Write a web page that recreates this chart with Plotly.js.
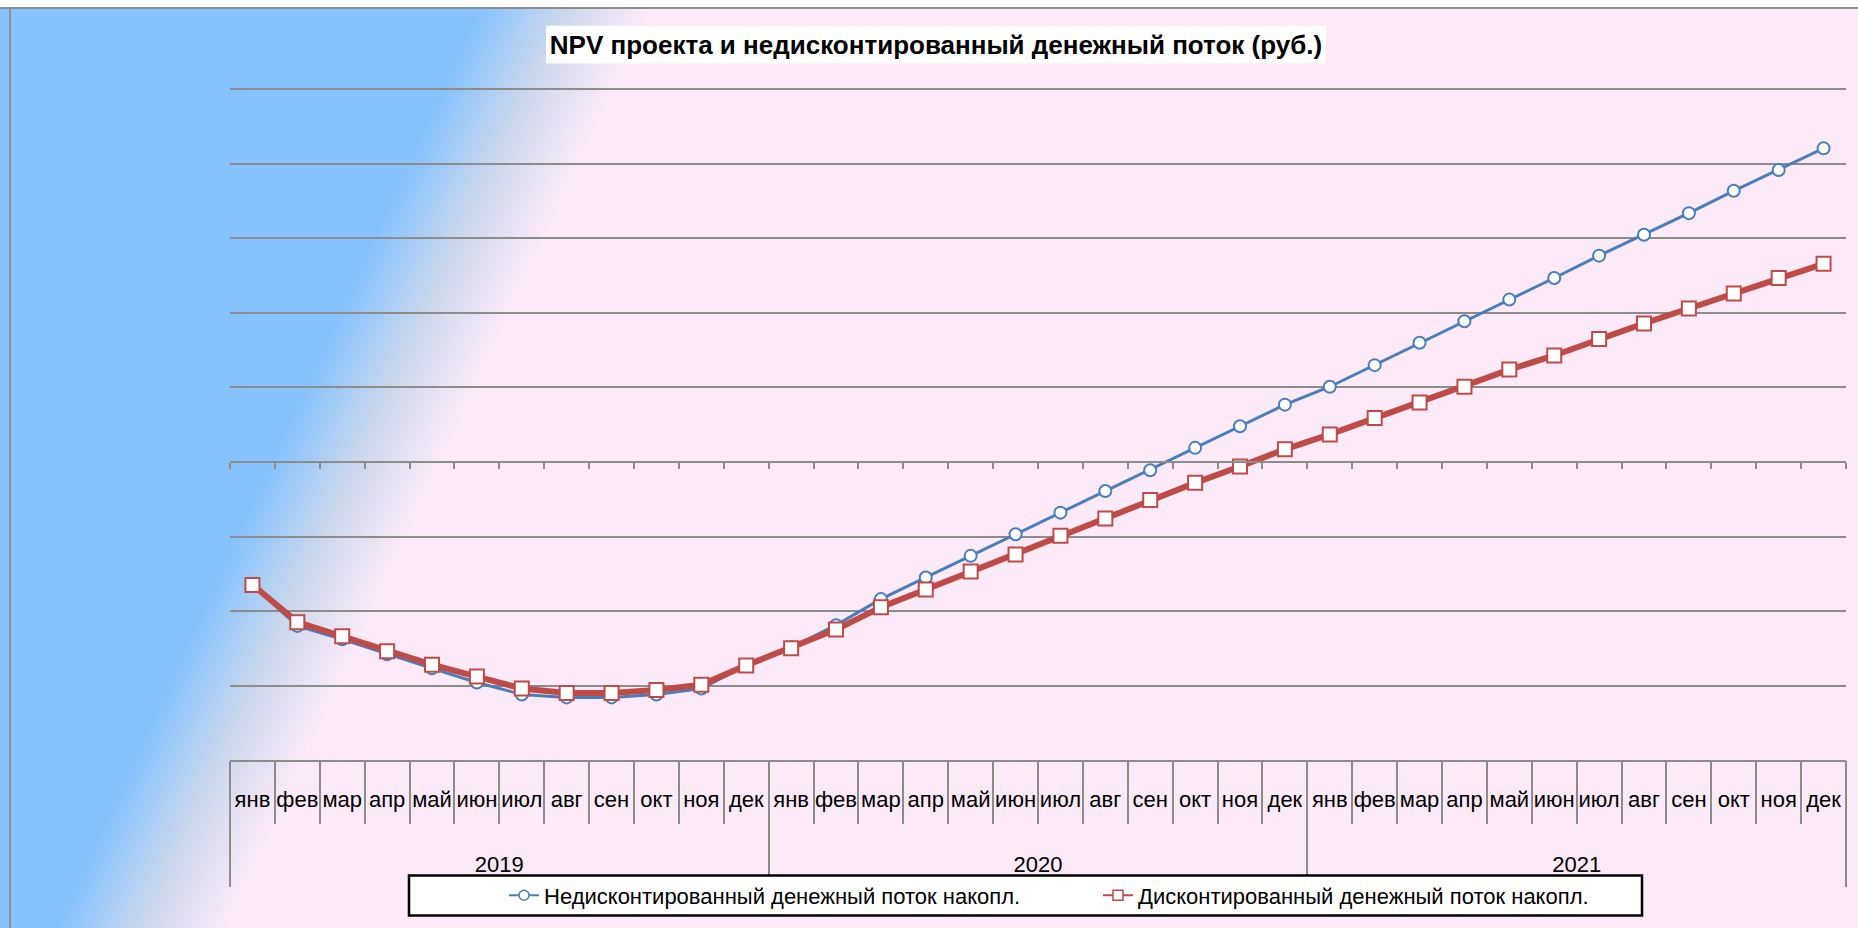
<!DOCTYPE html>
<html>
<head>
<meta charset="utf-8">
<script src="https://cdn.plot.ly/plotly-3.0.1.min.js"></script>
<style>
html,body{margin:0;padding:0;width:1858px;height:928px;overflow:hidden;}
#bg{position:absolute;left:0;top:0;width:1858px;height:928px;
 background:linear-gradient(114.7deg,#86C2FE 0%,#86C2FE 21.2%,#CCD8EC 25%,#FCEAF8 28.6%,#FCEAF8 100%);}
#topstrip{position:absolute;left:0;top:0;width:1858px;height:7px;background:#fff;border-bottom:2px solid #8E8E8E;}
#leftline{position:absolute;left:9px;top:7px;width:2px;height:921px;background:#8E8E8E;}
#chart{position:absolute;left:0;top:0;width:1858px;height:928px;}
</style>
</head>
<body>
<div id="bg"></div>
<div id="topstrip"></div>
<div id="leftline"></div>
<div id="chart"></div>
<script>
// ---- data ----
const months = ['янв','фев','мар','апр','май','июн','июл','авг','сен','окт','ноя','дек'];
const years = ['2019','2020','2021'];
// cumulative cash flow, million rub (gridline step = 1)
const undiscounted = [
  -1.65, -2.20, -2.38, -2.58, -2.77, -2.96, -3.12, -3.16, -3.16, -3.12, -3.04, -2.73,
  -2.49, -2.19, -1.84, -1.55, -1.26, -0.97, -0.68, -0.39, -0.11,  0.19,  0.48,  0.77,
   1.01,  1.30,  1.60,  1.89,  2.18,  2.47,  2.77,  3.05,  3.34,  3.64,  3.92,  4.21
];
const discounted = [
  -1.65, -2.15, -2.34, -2.54, -2.72, -2.88, -3.04, -3.10, -3.10, -3.06, -2.99, -2.73,
  -2.50, -2.25, -1.95, -1.71, -1.47, -1.24, -0.99, -0.76, -0.51, -0.28, -0.06,  0.17,
   0.37,  0.59,  0.80,  1.01,  1.24,  1.43,  1.65,  1.86,  2.06,  2.26,  2.47,  2.66
];
const seriesNames = ['Недисконтированный денежный поток накопл.', 'Дисконтированный денежный поток накопл.'];
const titleText = 'NPV проекта и недисконтированный денежный поток (руб.)';

// ---- derived category positions ----
const monthLabels = [];
const xIdx = [];
years.forEach((y, i) => months.forEach((m, j) => { monthLabels.push(m); xIdx.push(i * 12 + j); }));
const nCat = xIdx.length;
const monthBounds = [];
for (let i = 0; i <= nCat; i++) monthBounds.push(i - 0.5);
const yearCenters = years.map((y, i) => i * 12 + 5.5);
const yearBounds = [];
for (let i = 0; i <= years.length; i++) yearBounds.push(i * 12 - 0.5);

// ---- layout geometry (pixels) ----
const yRange = [-4, 5.02];
const W = 1858, H = 928, L = 230, R = 1846, B = 762;
const unitPx = (B - 89) / 9;
const T = 89 - (yRange[1] - 5) * unitPx;
const px2x = p => (p - L) / (R - L);
const px2y = p => (B - p) / (B - T);
const GRID = '#8C8C8C';
const FONT = 'Arial, "Liberation Sans", sans-serif';
const xRange = [-0.5, nCat - 0.5];
const BLUE = '#4A7EBB', RED = '#BE4B48';

const traces = [
  {
    x: xIdx, y: undiscounted, name: seriesNames[0], type: 'scatter', mode: 'lines+markers',
    legendgroup: 'u', showlegend: false,
    line: {color: BLUE, width: 3},
    marker: {symbol: 'circle', size: 12, color: '#FFFFFF', line: {color: BLUE, width: 2}},
    cliponaxis: false
  },
  {
    x: xIdx, y: discounted, name: seriesNames[1], type: 'scatter', mode: 'lines+markers',
    legendgroup: 'd', showlegend: false,
    line: {color: RED, width: 6},
    marker: {symbol: 'square', size: 14, color: '#FFFFFF', line: {color: RED, width: 2}},
    cliponaxis: false
  },
  // legend entries (thin symbols as in the original legend)
  {x: [null], y: [null], name: seriesNames[0], type: 'scatter', mode: 'lines+markers', legendgroup: 'u',
   line: {color: BLUE, width: 2}, marker: {symbol: 'circle', size: 10, color: '#FFFFFF', line: {color: BLUE, width: 1.5}},
   hoverinfo: 'skip'},
  {x: [null], y: [null], name: seriesNames[1], type: 'scatter', mode: 'lines+markers', legendgroup: 'd',
   line: {color: RED, width: 2}, marker: {symbol: 'square', size: 10, color: '#FFFFFF', line: {color: RED, width: 1.5}},
   hoverinfo: 'skip'},
  {x: [], y: [], xaxis: 'x2', yaxis: 'y', showlegend: false, hoverinfo: 'skip', type: 'scatter'},
  {x: [], y: [], xaxis: 'x3', yaxis: 'y', showlegend: false, hoverinfo: 'skip', type: 'scatter'}
];

const layout = {
  width: W, height: H,
  margin: {l: L, r: W - R, t: T, b: H - B, pad: 0},
  paper_bgcolor: 'rgba(0,0,0,0)',
  plot_bgcolor: 'rgba(0,0,0,0)',
  font: {family: FONT, size: 22, color: '#000'},
  title: {
    text: titleText,
    font: {family: FONT, size: 26, weight: 'bold', color: '#000'},
    xref: 'container', x: 936 / W, xanchor: 'center',
    yref: 'container', y: 1 - 45 / H, yanchor: 'middle'
  },
  showlegend: true,
  legend: {
    orientation: 'h',
    x: px2x(504), xanchor: 'left',
    y: px2y(898), yanchor: 'middle',
    bgcolor: 'rgba(0,0,0,0)', borderwidth: 0,
    font: {family: FONT, size: 22, color: '#000'},
    entrywidth: 549, entrywidthmode: 'pixels',
    traceorder: 'normal'
  },
  yaxis: {
    range: yRange, dtick: 1, tick0: 0,
    showgrid: true, gridcolor: GRID, gridwidth: 2,
    showticklabels: false, ticks: '', zeroline: false, showline: false, fixedrange: true
  },
  // month level (bottom box)
  xaxis: {
    type: 'linear', range: xRange,
    tickmode: 'array', tickvals: xIdx, ticktext: monthLabels, ticks: '',
    tickfont: {family: FONT, size: 22, color: '#000'},
    minor: {tickmode: 'array', tickvals: monthBounds, ticks: 'outside', ticklen: 62, tickcolor: GRID, tickwidth: 2, showgrid: false},
    showline: true, linecolor: GRID, linewidth: 2,
    showgrid: false, zeroline: false, fixedrange: true,
    ticklabelstandoff: 19
  },
  // zero line with tick marks
  xaxis2: {
    type: 'linear', range: xRange, overlaying: 'x', anchor: 'free',
    position: (0 - yRange[0]) / (yRange[1] - yRange[0]), side: 'bottom',
    tickmode: 'array', tickvals: monthBounds, ticks: 'outside', ticklen: 6, tickcolor: GRID, tickwidth: 2,
    showticklabels: false, showline: true, linecolor: GRID, linewidth: 2,
    showgrid: false, zeroline: false, fixedrange: true
  },
  // year level
  xaxis3: {
    type: 'linear', range: xRange, overlaying: 'x', anchor: 'y', side: 'bottom',
    tickmode: 'array', tickvals: yearCenters, ticktext: years, ticks: '',
    tickfont: {family: FONT, size: 22, color: '#000'},
    minor: {tickmode: 'array', tickvals: yearBounds, ticks: 'outside', ticklen: 126, tickcolor: GRID, tickwidth: 2, showgrid: false},
    showline: false, showgrid: false, zeroline: false, fixedrange: true,
    ticklabelstandoff: 89
  },
  shapes: [
    {type: 'rect', xref: 'paper', yref: 'paper', layer: 'below',
     x0: px2x(546), x1: px2x(1326), y0: px2y(63), y1: px2y(25),
     fillcolor: '#FFFFFF', line: {width: 0}},
    {type: 'rect', xref: 'paper', yref: 'paper', layer: 'above',
     x0: px2x(409), x1: px2x(1642), y0: px2y(918), y1: px2y(878),
     fillcolor: '#FFFFFF', line: {color: '#000000', width: 2.5}}
  ]
};

Plotly.newPlot('chart', traces, layout, {displayModeBar: false, staticPlot: true});
</script>
</body>
</html>
